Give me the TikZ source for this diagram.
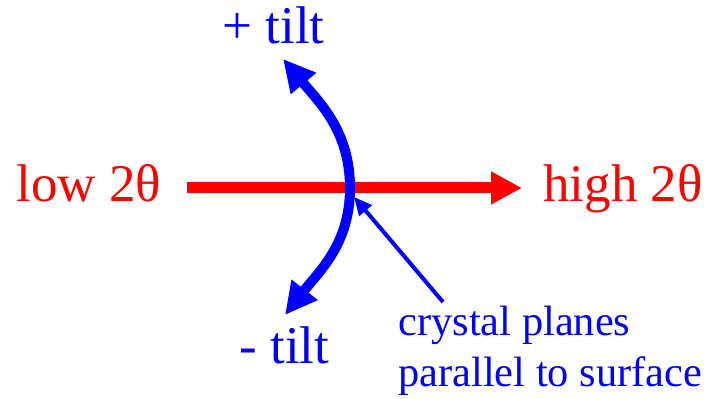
\documentclass[tikz,border=0pt]{standalone}
\usepackage{fontspec}
\setmainfont{Liberation Serif}
\usepackage{xcolor}
\usetikzlibrary{arrows.meta}
\usetikzlibrary{positioning}

\tikzset{
  bigtxt/.style={font=\fontsize{26.5}{30}\selectfont, inner sep=0pt},
  smalltxt/.style={font=\fontsize{21.2}{25.5}\selectfont, inner sep=0pt},
}

\begin{document}
\begin{tikzpicture}[x=0.5pt, y=0.5pt]
        \useasboundingbox (0,0) rectangle (710,399);

        % Etichette
        \node[bigtxt, red, anchor=base west] (low) at (16,197) {low 2θ};
        \node[bigtxt, red, anchor=base west] (high) at (543,197) {high 2θ};
        \node[bigtxt, blue, anchor=base west] (plus) at (222,355) {+ tilt};
        \node[bigtxt, blue, anchor=base west] (minus) at (239,35) {- tilt};
        \node[smalltxt, blue, anchor=base west] (planes) at (398,63) {crystal planes};
        \node[smalltxt, blue, anchor=base west] (surface) at (398,12) {parallel to surface};

        % Punti
        \coordinate (r0) at (187,211);
        \coordinate (r1) at (522,211);
        \coordinate (ttop) at (283,340);
        \coordinate (tmid) at (350,211);
        \coordinate (tbot) at (285,84);
        \coordinate (p0) at (443,97);
        \coordinate (p1) at (354,202);

        % Freccia rossa
        \draw[red, line width=5.5pt, -{Triangle[length=15.5pt, width=15.5pt]}] (r0) -- (r1);

        % Freccia curva blu
        \draw[blue, line width=5pt, {Triangle[length=16pt, width=15.5pt]}-{Triangle[length=16pt, width=15.5pt]}]
            (ttop) to[out=-50, in=90] (tmid)
            to[out=-90, in=52] (tbot);

        % Freccia sottile
        \draw[blue, line width=2pt, -{Triangle[length=9pt, width=8pt]}] (p0) -- (p1);
    \end{tikzpicture}
\end{document}
